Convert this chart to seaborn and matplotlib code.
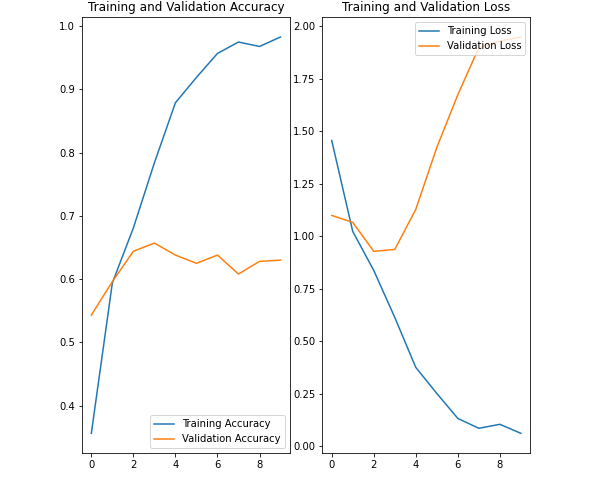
import numpy as np
import seaborn as sns
from matplotlib import pyplot as plt

epochs_range = list(range(10))

acc = [0.356, 0.594, 0.681, 0.784, 0.879, 0.919, 0.957, 0.975, 0.968, 0.983]
val_acc = [0.543, 0.596, 0.644, 0.657, 0.638, 0.625, 0.638, 0.608, 0.628, 0.630]

loss = [1.457, 1.024, 0.838, 0.614, 0.376, 0.252, 0.133, 0.086, 0.105, 0.062]
val_loss = [1.100, 1.067, 0.929, 0.938, 1.129, 1.424, 1.675, 1.900, 1.930, 1.950]


def draw_history(ax, train, valid, name, legend_loc):
    sns.lineplot(x=epochs_range, y=train, ax=ax, label="Training " + name)
    sns.lineplot(x=epochs_range, y=valid, ax=ax, label="Validation " + name)
    ax.legend(loc=legend_loc)
    ax.set_title("Training and Validation " + name)


fig = plt.figure(figsize=(602 / 72, 477 / 72), dpi=72)
ax1 = fig.add_subplot(1, 2, 1)
ax2 = fig.add_subplot(1, 2, 2)
fig.subplots_adjust(left=0.136, right=0.881, top=0.964, bottom=0.050, wspace=0.155)

draw_history(ax1, acc, val_acc, "Accuracy", "lower right")
draw_history(ax2, loss, val_loss, "Loss", "upper right")

fig.savefig("out.png", dpi=72)
